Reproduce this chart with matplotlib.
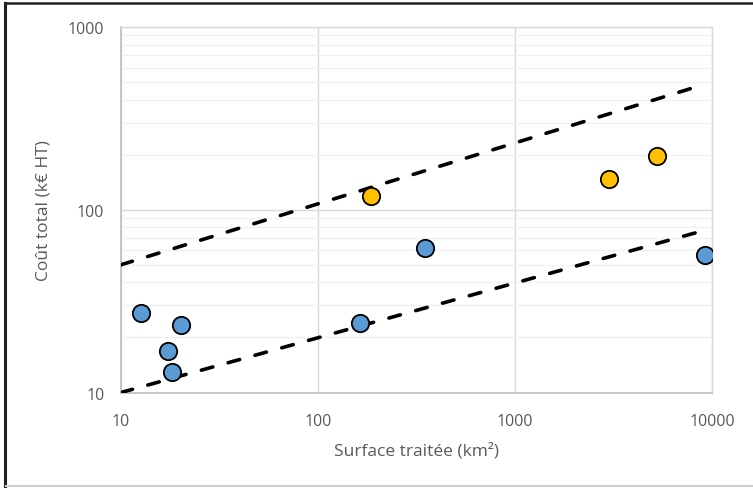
import matplotlib
matplotlib.use("Agg")
import matplotlib.pyplot as plt
from matplotlib.lines import Line2D
from matplotlib.ticker import LogLocator, FixedLocator, NullFormatter, FixedFormatter

# Data
blue_x = [12.6, 17.3, 18.2, 20.2, 163, 349, 9200]
blue_y = [27.4, 16.8, 12.9, 23.3, 23.9, 61.5, 56.3]
orange_x = [186, 3000, 5260]
orange_y = [118.6, 147, 196]
upper_x = [10, 8900]
upper_y = [50, 481]
lower_x = [10, 9500]
lower_y = [10, 78]
x_ticks = [10, 100, 1000, 10000]
y_ticks = [10, 100, 1000]
x_labels = ["10", "100", "1000", "10000"]
y_labels = ["10", "100", "1000"]

plt.rcParams['font.family'] = ['Open Sans', 'DejaVu Sans']
W, H = 753, 489
fig = plt.figure(figsize=(W / 100, H / 100), dpi=100)
ax = fig.add_axes([121 / W, 1 - 393.5 / H, (712 - 121) / W, (393.5 - 28) / H])

ax.set_xscale('log')
ax.set_yscale('log')
ax.set_xlim(10, 10000)
ax.set_ylim(10, 1000)

dash = (0, (3.3, 4.4))
ax.plot(upper_x, upper_y, color='black', lw=2.6, ls=dash, dash_capstyle='round', zorder=3)
ax.plot(lower_x, lower_y, color='black', lw=2.6, ls=dash, dash_capstyle='round', zorder=3)
ax.plot(blue_x, blue_y, 'o', ms=12.5, mfc='#5B9BD5', mec='black', mew=1.3, zorder=4)
ax.plot(orange_x, orange_y, 'o', ms=12.5, mfc='#FFC000', mec='black', mew=1.3, zorder=4)

ax.xaxis.set_major_locator(FixedLocator(x_ticks))
ax.xaxis.set_major_formatter(FixedFormatter(x_labels))
ax.xaxis.set_minor_locator(FixedLocator([]))
ax.yaxis.set_major_locator(FixedLocator(y_ticks))
ax.yaxis.set_major_formatter(FixedFormatter(y_labels))
ax.yaxis.set_minor_locator(LogLocator(base=10, subs=range(2, 10)))
ax.yaxis.set_minor_formatter(NullFormatter())

ax.grid(True, which='major', color='#D9D9D9', lw=1.0, zorder=0)
ax.grid(True, which='minor', axis='y', color='#F0F0F0', lw=1.0, zorder=0)
ax.set_axisbelow(True)

for s in ['top', 'right']:
    ax.spines[s].set_color('#D9D9D9')
    ax.spines[s].set_linewidth(1.0)
for s in ['left', 'bottom']:
    ax.spines[s].set_color('#BFBFBF')
    ax.spines[s].set_linewidth(1.2)

ax.tick_params(which='both', length=0, colors='#595959', labelsize=11.5)
ax.tick_params(axis='x', pad=15)
ax.tick_params(axis='y', pad=12)

ax.set_xlabel("Surface traitée (km²)", color='#595959', fontsize=12.5, labelpad=9)
ax.set_ylabel("Coût total (k€ HT)", color='#595959', fontsize=12.5, labelpad=12)

# figure border
fig.add_artist(Line2D([5 / W, 1], [1 - 4 / H, 1 - 4 / H], color='#202020', lw=1.8, transform=fig.transFigure))
fig.add_artist(Line2D([5 / W, 5 / W], [1 - 4 / H, 1 - 487 / H], color='#202020', lw=2.2, transform=fig.transFigure))
fig.add_artist(Line2D([6 / W, 1], [1 - 487 / H, 1 - 487 / H], color='#D0D0D0', lw=1.5, transform=fig.transFigure))

fig.savefig("out.png", dpi=100)
